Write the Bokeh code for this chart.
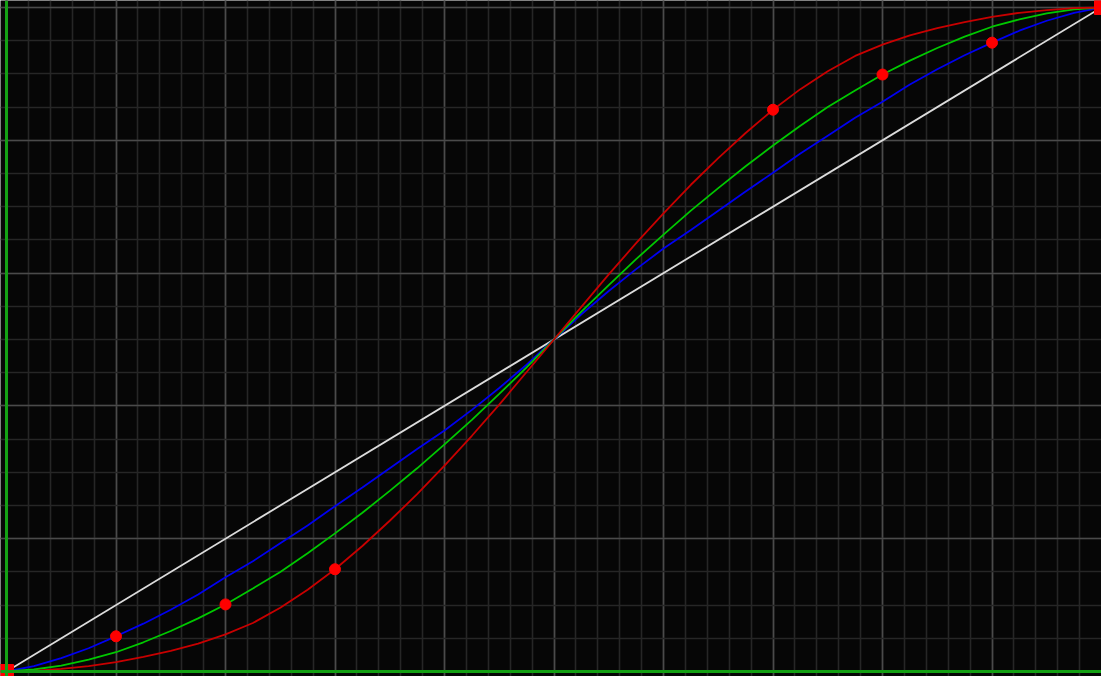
from bokeh.plotting import figure
from bokeh.models import Range1d, FixedTicker, Span
from bokeh.embed import file_html
from bokeh.resources import INLINE

# ---- data ----
x_curve = [0.000, 0.025, 0.050, 0.075, 0.100, 0.125, 0.150, 0.175, 0.200, 0.225,
           0.250, 0.275, 0.300, 0.325, 0.350, 0.375, 0.400, 0.425, 0.450, 0.475,
           0.500, 0.525, 0.550, 0.575, 0.600, 0.625, 0.650, 0.675, 0.700, 0.725,
           0.750, 0.775, 0.800, 0.825, 0.850, 0.875, 0.900, 0.925, 0.950, 0.975,
           1.000]

linear_x = [0.0, 1.0]
linear_y = [0.0, 1.0]

blue_y = [0.000, 0.008, 0.020, 0.035, 0.053, 0.072, 0.093, 0.116, 0.142, 0.166,
          0.193, 0.220, 0.249, 0.277, 0.306, 0.335, 0.363, 0.394, 0.427, 0.462,
          0.500, 0.538, 0.573, 0.606, 0.637, 0.665, 0.694, 0.723, 0.751, 0.780,
          0.807, 0.834, 0.858, 0.884, 0.907, 0.928, 0.947, 0.965, 0.980, 0.992,
          1.000]

green_y = [0.000, 0.003, 0.009, 0.018, 0.029, 0.044, 0.061, 0.080, 0.101, 0.125,
           0.150, 0.178, 0.208, 0.239, 0.272, 0.306, 0.342, 0.379, 0.418, 0.458,
           0.500, 0.542, 0.582, 0.621, 0.658, 0.694, 0.728, 0.761, 0.792, 0.822,
           0.850, 0.875, 0.899, 0.920, 0.939, 0.956, 0.971, 0.982, 0.991, 0.997,
           1.000]

red_y = [0.000, 0.001, 0.004, 0.008, 0.014, 0.022, 0.031, 0.042, 0.056, 0.073,
         0.096, 0.123, 0.154, 0.189, 0.227, 0.267, 0.310, 0.355, 0.402, 0.451,
         0.500, 0.549, 0.598, 0.645, 0.690, 0.733, 0.773, 0.811, 0.846, 0.877,
         0.904, 0.927, 0.944, 0.958, 0.969, 0.978, 0.986, 0.992, 0.996, 0.999,
         1.000]

# control points (red dots)
ctrl_x = [0.1, 0.2, 0.3, 0.7, 0.8, 0.9]
ctrl_y = [0.053, 0.101, 0.154, 0.846, 0.899, 0.947]

# end points (red squares)
end_x = [0.0, 1.0]
end_y = [0.0, 1.0]

x_major = [0.0, 0.1, 0.2, 0.3, 0.4, 0.5, 0.6, 0.7, 0.8, 0.9, 1.0]
x_minor = [round(i * 0.02, 2) for i in range(51)]
y_major = [0.0, 0.2, 0.4, 0.6, 0.8, 1.0]
y_minor = [round(i * 0.05, 2) for i in range(21)]

# ---- figure ----
p = figure(width=1101, height=676, output_backend="svg", toolbar_location=None,
           x_range=Range1d(-0.00548, 1.0), y_range=Range1d(-0.00753, 1.0105),
           min_border=0, min_border_left=0, min_border_right=0,
           min_border_top=0, min_border_bottom=0)
p.background_fill_color = "#060606"
p.border_fill_color = "#060606"
p.outline_line_color = None
p.xaxis.visible = False
p.yaxis.visible = False

p.xgrid.ticker = FixedTicker(ticks=x_major, minor_ticks=x_minor)
p.ygrid.ticker = FixedTicker(ticks=y_major, minor_ticks=y_minor)
for g in (p.xgrid, p.ygrid):
    g.grid_line_color = "#4a4a4a"
    g.grid_line_width = 1.6
    g.minor_grid_line_color = "#262626"
    g.minor_grid_line_width = 1.6

p.add_layout(Span(location=0, dimension="height", line_color="#14a014", line_width=3))
p.add_layout(Span(location=0, dimension="width", line_color="#14a014", line_width=3))

p.line(linear_x, linear_y, line_color="#dcdcdc", line_width=1.8)
p.line(x_curve, blue_y, line_color="#0000f0", line_width=1.8)
p.line(x_curve, green_y, line_color="#00c800", line_width=1.8)
p.line(x_curve, red_y, line_color="#c80000", line_width=1.8)

p.scatter(ctrl_x, ctrl_y, size=11, color="#ff0000")
p.scatter(end_x, end_y, marker="square", size=14, color="#ff0000")

open("out.html", "w").write(file_html(p, INLINE))
